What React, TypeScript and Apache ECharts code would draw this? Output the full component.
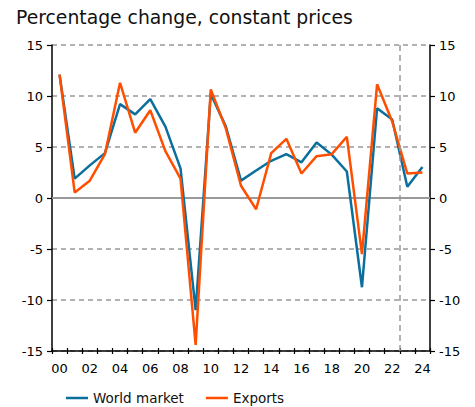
import React, { useEffect, useRef } from "react";
import * as echarts from "echarts";

const years = ["00","01","02","03","04","05","06","07","08","09","10","11","12","13","14","15","16","17","18","19","20","21","22","23","24"];
const worldMarket = [12.1, 1.9, 3.2, 4.4, 9.2, 8.2, 9.7, 7.0, 2.9, -11.0, 10.2, 7.0, 1.7, 2.7, 3.65, 4.3, 3.5, 5.45, 4.25, 2.6, -8.75, 8.8, 7.7, 1.1, 3.05];
const exportsData = [12.1, 0.55, 1.7, 4.3, 11.3, 6.4, 8.6, 4.6, 1.9, -14.4, 10.65, 6.8, 1.2, -1.1, 4.4, 5.8, 2.4, 4.1, 4.3, 6.0, -5.5, 11.15, 7.5, 2.4, 2.5];
const yTicks = { min: -15, max: 15, interval: 5 };
const forecastBoundary = 22.5;

export default function App() {
  const ref = useRef<HTMLDivElement>(null);
  useEffect(() => {
    if (!ref.current) return;
    const chart = echarts.init(ref.current, null, { renderer: "svg" });
    const font = "DejaVu Sans, Verdana, sans-serif";
    const yCommon = {
      type: "value",
      min: yTicks.min,
      max: yTicks.max,
      interval: yTicks.interval,
      axisLine: { show: true, onZero: false, lineStyle: { color: "#000", width: 1.5 } },
      axisTick: { show: true, length: 5, lineStyle: { color: "#000", width: 1.2 } },
      axisLabel: { color: "#000", fontSize: 13, fontFamily: font },
    };
    chart.setOption({
      animation: false,
      title: {
        text: "Percentage change, constant prices",
        left: 8,
        top: 0,
        padding: 0,
        textStyle: { fontSize: 18.8, fontWeight: "normal", color: "#111", fontFamily: font },
      },
      grid: { left: 44, right: 45, top: 37, bottom: 64, containLabel: false },
      legend: {
        top: 383,
        left: 58,
        padding: 0,
        icon: "rect",
        itemWidth: 22,
        itemHeight: 2.5,
        itemGap: 22,
        textStyle: { fontSize: 13.5, color: "#111", fontFamily: font },
        data: ["World market", "Exports"],
      },
      xAxis: [
        {
          type: "category",
          data: years,
          boundaryGap: true,
          axisLine: { show: true, onZero: false, lineStyle: { color: "#000", width: 1.5 } },
          axisTick: { show: true, interval: 0, length: 3, lineStyle: { color: "#000", width: 1.2 } },
          axisLabel: { interval: 1, color: "#000", fontSize: 13, fontFamily: font, margin: 11 },
          splitLine: { show: false },
        },
        {
          type: "category",
          data: years,
          position: "bottom",
          boundaryGap: true,
          axisLine: { show: false, onZero: false },
          axisTick: { show: true, inside: true, interval: 0, length: 3, lineStyle: { color: "#000", width: 1.2 } },
          axisLabel: { show: false },
          splitLine: { show: false },
        },
        {
          type: "value",
          min: -0.5,
          max: 24.5,
          show: false,
          axisLine: { onZero: false },
        },
      ],
      yAxis: [
        {
          ...yCommon,
          position: "left",
          axisLabel: { ...yCommon.axisLabel, margin: 9 },
          splitLine: { show: true, lineStyle: { color: "#999", type: [5, 4], width: 1.5 } },
        },
        {
          ...yCommon,
          position: "right",
          axisLabel: { ...yCommon.axisLabel, margin: 9 },
          splitLine: { show: false },
        },
      ],
      series: [
        {
          name: "World market",
          type: "line",
          data: worldMarket,
          xAxisIndex: 0,
          yAxisIndex: 0,
          symbol: "none",
          lineStyle: { color: "#0a6f9c", width: 2.5 },
          itemStyle: { color: "#0a6f9c" },
          z: 3,
          markLine: {
            silent: true,
            symbol: "none",
            label: { show: false },
            lineStyle: { color: "#999", type: "solid", width: 2 },
            data: [{ yAxis: 0 }],
            z: 1,
          },
        },
        {
          name: "Exports",
          type: "line",
          data: exportsData,
          xAxisIndex: 0,
          yAxisIndex: 0,
          symbol: "none",
          lineStyle: { color: "#ff4e00", width: 2.5 },
          itemStyle: { color: "#ff4e00" },
          z: 4,
        },
        {
          name: "boundary",
          type: "line",
          xAxisIndex: 2,
          yAxisIndex: 0,
          data: [],
          symbol: "none",
          markLine: {
            silent: true,
            symbol: "none",
            label: { show: false },
            lineStyle: { color: "#999", type: [6, 4], width: 1.5 },
            data: [{ xAxis: forecastBoundary }],
          },
        },
      ],
    });
    return () => chart.dispose();
  }, []);
  return <div ref={ref} style={{ width: 467, height: 407 }} />;
}
